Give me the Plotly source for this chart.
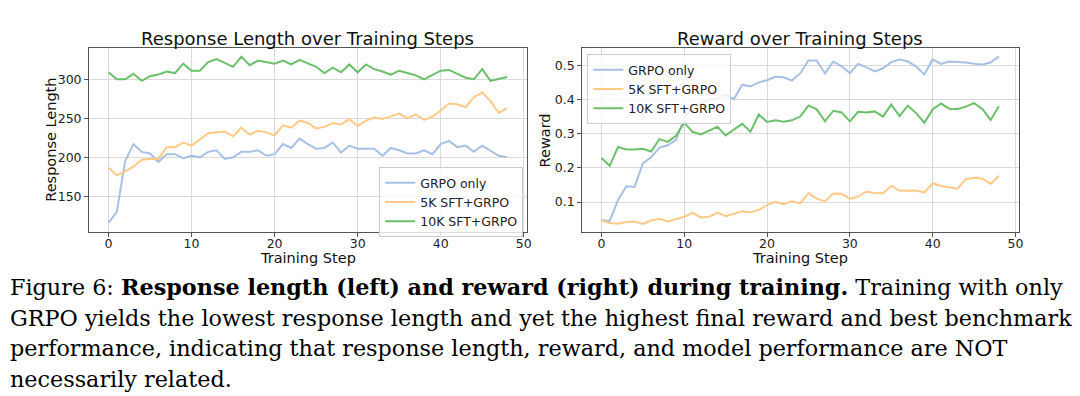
import plotly.graph_objects as go

steps = list(range(49))

len_grpo = [116, 130, 195, 217, 207, 205, 194, 204, 204, 199, 202, 200, 207, 209, 198, 200,
            207, 207, 209, 202, 204, 217, 212, 224, 217, 211, 212, 219, 206, 215, 211, 211,
            211, 202, 212, 209, 205, 205, 209, 204, 217, 221, 213, 215, 207, 215, 208, 202, 200]
len_5k = [187, 177, 182, 188, 197, 198, 198, 213, 213, 219, 215, 223, 231, 232, 233, 227,
          238, 229, 234, 232, 228, 241, 238, 247, 244, 237, 239, 244, 242, 249, 240, 247,
          251, 249, 252, 256, 250, 255, 248, 252, 260, 269, 268, 264, 277, 283, 272, 257, 263]
len_10k = [309, 300, 300, 307, 298, 304, 306, 310, 308, 320, 311, 311, 322, 326, 321, 316,
           329, 318, 324, 322, 320, 324, 319, 325, 321, 316, 308, 315, 309, 319, 309, 319,
           313, 310, 306, 311, 308, 305, 300, 305, 311, 312, 307, 302, 300, 313, 298, 301, 303]

rew_grpo = [0.047, 0.045, 0.106, 0.146, 0.144, 0.213, 0.231, 0.259, 0.266, 0.282, 0.345, 0.380,
            0.389, 0.398, 0.404, 0.414, 0.401, 0.443, 0.438, 0.450, 0.456, 0.466, 0.465, 0.455,
            0.476, 0.514, 0.514, 0.476, 0.511, 0.497, 0.477, 0.504, 0.494, 0.482, 0.491, 0.509,
            0.517, 0.511, 0.496, 0.473, 0.517, 0.504, 0.511, 0.510, 0.508, 0.504, 0.502, 0.508, 0.526]
rew_5k = [0.047, 0.039, 0.037, 0.042, 0.043, 0.036, 0.046, 0.051, 0.043, 0.049, 0.057, 0.069,
          0.055, 0.057, 0.069, 0.059, 0.066, 0.073, 0.070, 0.077, 0.091, 0.101, 0.094, 0.102,
          0.096, 0.126, 0.110, 0.102, 0.125, 0.124, 0.110, 0.116, 0.131, 0.126, 0.126, 0.147,
          0.133, 0.133, 0.134, 0.128, 0.155, 0.147, 0.143, 0.139, 0.167, 0.171, 0.169, 0.153, 0.177]
rew_10k = [0.229, 0.206, 0.261, 0.254, 0.254, 0.256, 0.248, 0.284, 0.276, 0.294, 0.332, 0.305,
           0.298, 0.308, 0.320, 0.295, 0.313, 0.329, 0.306, 0.356, 0.334, 0.339, 0.335, 0.339,
           0.350, 0.382, 0.371, 0.336, 0.367, 0.362, 0.336, 0.364, 0.362, 0.365, 0.350, 0.385,
           0.351, 0.382, 0.360, 0.332, 0.371, 0.388, 0.373, 0.372, 0.379, 0.389, 0.372, 0.340, 0.380]

series_names = ["GRPO only", "5K SFT+GRPO", "10K SFT+GRPO"]
colors = ["#a7c0e4", "#ffc987", "#6cc06b"]

x_ticks = [0, 10, 20, 30, 40, 50]
len_ticks = [150, 200, 250, 300]
rew_ticks = [0.1, 0.2, 0.3, 0.4, 0.5]

W, H = 1080, 396
SANS = "DejaVu Sans"
SERIF = "DejaVu Serif"

fig = go.Figure()
for name, col, ys in zip(series_names, colors, [len_grpo, len_5k, len_10k]):
    fig.add_trace(go.Scatter(x=steps, y=ys, mode="lines", name=name,
                             line=dict(color=col, width=2), xaxis="x", yaxis="y",
                             legend="legend", hoverinfo="skip"))
for name, col, ys in zip(series_names, colors, [rew_grpo, rew_5k, rew_10k]):
    fig.add_trace(go.Scatter(x=steps, y=ys, mode="lines", name=name,
                             line=dict(color=col, width=2), xaxis="x2", yaxis="y2",
                             legend="legend2", hoverinfo="skip"))

def px(x):
    return x / W

def py(y):
    return 1 - y / H

axis_common = dict(showline=True, mirror=True, linecolor="#555555", linewidth=1,
                   ticks="outside", ticklen=3.5, tickcolor="#555555", tickwidth=1,
                   showgrid=True, gridcolor="#dadada", gridwidth=1.2, zeroline=False,
                   tickfont=dict(family=SANS, size=12.5, color="#222222"))

ydom = [py(232), py(48.3)]
fig.update_layout(
    width=W, height=H,
    margin=dict(l=0, r=0, t=0, b=0),
    paper_bgcolor="white", plot_bgcolor="white",
    xaxis=dict(domain=[px(89), px(529.5)], range=[-2.4, 50.4], tickvals=x_ticks,
               anchor="y", ticklabelstandoff=-4, **axis_common),
    yaxis=dict(domain=ydom, range=[104.3, 339.7], tickvals=len_ticks,
               anchor="x", **axis_common),
    xaxis2=dict(domain=[px(584.3), px(1023.5)], range=[-2.4, 50.4], tickvals=x_ticks,
                anchor="y2", ticklabelstandoff=-4, **axis_common),
    yaxis2=dict(domain=ydom, range=[0.0125, 0.5495], tickvals=rew_ticks,
                tickformat=".1f", anchor="x2", **axis_common),
    legend=dict(x=px(381), y=py(167), xanchor="left", yanchor="top",
                bgcolor="rgba(255,255,255,0.8)", bordercolor="#cccccc", borderwidth=1,
                font=dict(family=SANS, size=12.5, color="#222222")),
    legend2=dict(x=px(590), y=py(54), xanchor="left", yanchor="top",
                 bgcolor="rgba(255,255,255,0.8)", bordercolor="#cccccc", borderwidth=1,
                 font=dict(family=SANS, size=12.5, color="#222222")),
    showlegend=True,
    hovermode=False,
)

def ann(text, x, y, size, family=SANS, angle=0, xanchor="center", yanchor="middle", color="#111111"):
    fig.add_annotation(text=text, x=px(x), y=py(y), xref="paper", yref="paper",
                       showarrow=False, xanchor=xanchor, yanchor=yanchor, textangle=angle,
                       font=dict(family=family, size=size, color=color))

ann("Response Length over Training Steps", 309, 38.5, 18)
ann("Reward over Training Steps", 804, 38.5, 18)
ann("Training Step", 309, 258, 14.5)
ann("Training Step", 804, 258, 14.5)
ann("Response Length", 51, 140, 14.5, angle=-90)
ann("Reward", 548, 140, 14.5, angle=-90)

caption = [
    "Figure 6: <b>Response length (left) and reward (right) during training.</b> Training with only",
    "GRPO yields the lowest response length and yet the highest final reward and best benchmark",
    "performance, indicating that response length, reward, and model performance are NOT",
    "necessarily related.",
]
for i, line in enumerate(caption):
    ann(line, 8, 287 + 30.5 * i, 22.3, family=SERIF, xanchor="left", color="#000000")

fig.write_html("out.html", config={"displayModeBar": False},
               post_script="document.body.style.margin='0';document.body.style.overflow='hidden';")
